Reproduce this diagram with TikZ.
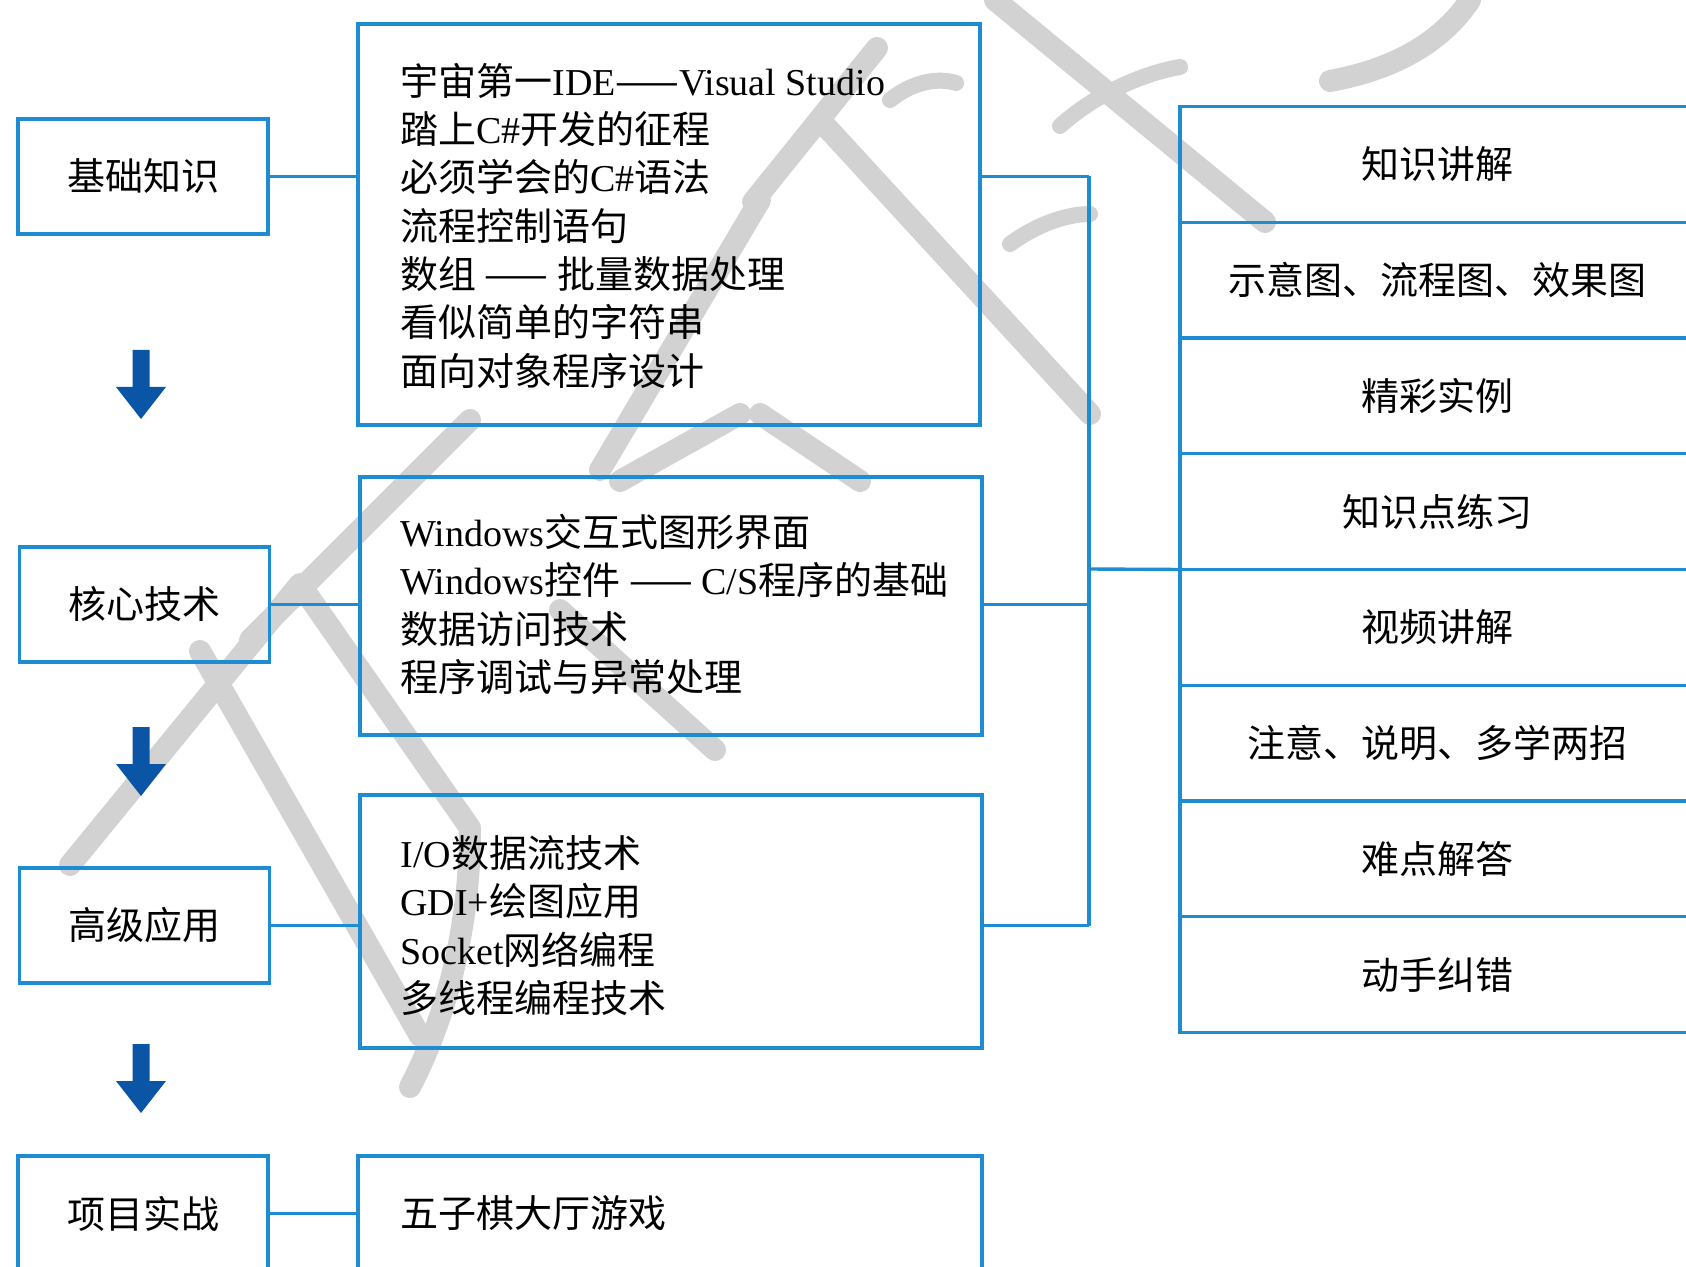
\documentclass[tikz,border=0pt]{standalone}
\usepackage{fontspec}
\setmainfont{Noto Sans CJK SC}
\newfontfamily\lat{Liberation Serif}
\usetikzlibrary{fit}
\definecolor{boxblue}{RGB}{30,140,210}
\definecolor{arrblue}{RGB}{10,85,165}
\definecolor{wmgray}{RGB}{210,210,210}
\begin{document}
\begin{tikzpicture}[x=0.5pt,y=-0.5pt,
  box/.style={draw=boxblue, line width=1.7pt, inner sep=0pt, outer sep=0pt,
              font=\fontsize{19}{23}\selectfont},
  lbox/.style={box, minimum width=125pt, minimum height=57.5pt},
  rbox/.style={box, minimum width=257pt, minimum height=57.875pt},
  conn/.style={draw=boxblue, line width=1.7pt},
  txt/.style={inner sep=0pt, anchor=base west, font=\fontsize{19}{23}\selectfont},
  wmark/.style={draw=wmgray, line width=11pt, line cap=round, line join=round},
  blockarrow/.style={fill=arrblue}]
\useasboundingbox (0,0) rectangle (1686,1267);
\clip (0,0) rectangle (1686,1267);

% watermark (approximate strokes)
\draw[wmark] (995,0) -- (1265,222);
\draw[wmark] (820,120) -- (1090,414);
\draw[wmark] (877,48) -- (753,202);
\draw[wmark] (760,200) -- (600,470);
\draw[wmark] (620,481) -- (740,414);
\draw[wmark] (760,414) -- (860,481);
\draw[wmark, line width=8pt] (1060,126) .. controls (1100,90) and (1150,72) .. (1180,67);
\draw[wmark, line width=8pt] (1010,244) .. controls (1040,222) and (1070,214) .. (1090,214);
\draw[wmark, line width=8pt] (890,100) .. controls (915,80) and (940,78) .. (956,83);
\draw[wmark] (1470,0) .. controls (1440,45) and (1390,70) .. (1330,81);
\draw[wmark] (70,865) -- (300,584) -- (470,828) .. controls (470,930) and (445,1020) .. (410,1087);
\draw[wmark] (200,651) -- (420,1036);
\draw[wmark] (470,420) -- (250,640);
\draw[wmark] (560,610) -- (715,750);

% left column
\node[lbox] (b1) at (143,176.5)  {基础知识};
\node[lbox] (b2) at (144.5,604.5) {核心技术};
\node[lbox] (b3) at (144.5,925.5) {高级应用};
\node[lbox] (b4) at (143,1213.5) {项目实战};

% arrows between left boxes
\foreach \t in {350,727,1044} {
  \fill[blockarrow] (132.5,\t) -- (149.5,\t) -- (149.5,\t+37) -- (166,\t+37)
     -- (141,\t+69) -- (116,\t+37) -- (132.5,\t+37) -- cycle;
}

% middle boxes
\node[box, fit={(358,24) (980,425)}] (m1) {};
\node[box, fit={(360,477) (982,735)}] (m2) {};
\node[box, fit={(360,795) (982,1048)}] (m3) {};
\node[box, fit={(358,1156) (982,1300)}] (m4) {};

\node[txt] (m1a) at (400,96)  {宇宙第一{\lat IDE}——{\lat Visual Studio}};
\node[txt] (m1b) at (400,144) {踏上{\lat C\#}开发的征程};
\node[txt] (m1c) at (400,192) {必须学会的{\lat C\#}语法};
\node[txt] (m1d) at (400,241) {流程控制语句};
\node[txt] (m1e) at (400,289) {数组 —— 批量数据处理};
\node[txt] (m1f) at (400,337) {看似简单的字符串};
\node[txt] (m1g) at (400,386) {面向对象程序设计};

\node[txt] (m2a) at (400,546) {{\lat Windows}交互式图形界面};
\node[txt] (m2b) at (400,594) {{\lat Windows}控件 —— {\lat C/S}程序的基础};
\node[txt] (m2c) at (400,643) {数据访问技术};
\node[txt] (m2d) at (400,691) {程序调试与异常处理};

\node[txt] (m3a) at (400,867)  {{\lat I/O}数据流技术};
\node[txt] (m3b) at (400,915)  {{\lat GDI+}绘图应用};
\node[txt] (m3c) at (400,964)  {{\lat Socket}网络编程};
\node[txt] (m3d) at (400,1012) {多线程编程技术};

\node[txt] (m4a) at (400,1227) {五子棋大厅游戏};

% right column
\foreach \txt [count=\i] in {知识讲解, 示意图、流程图、效果图, 精彩实例, 知识点练习,
                              视频讲解, 注意、说明、多学两招, 难点解答, 动手纠错} {
  \node[rbox] (r\i) at (1437, {164.375+115.75*(\i-1)}) {\txt};
}

% connectors left -> middle
\draw[conn] (b1.east) -- (b1.east -| m1.west);
\draw[conn] (b2.east) -- (b2.east -| m2.west);
\draw[conn] (b3.east) -- (b3.east -| m3.west);
\draw[conn] (b4.east) -- (b4.east -| m4.west);

% bus middle -> right
\coordinate (j1) at (1089,176.5);
\coordinate (j2) at (1089,604.5);
\coordinate (j3) at (1089,925.5);
\coordinate (jm) at (1089,569);
\draw[conn] (m1.east |- j1) -- (j1);
\draw[conn] (m2.east |- j2) -- (j2);
\draw[conn] (m3.east |- j3) -- (j3);
\draw[conn] (j1) -- (j3);
\draw[conn] (jm) -- (r5.north west);
\end{tikzpicture}
\end{document}
